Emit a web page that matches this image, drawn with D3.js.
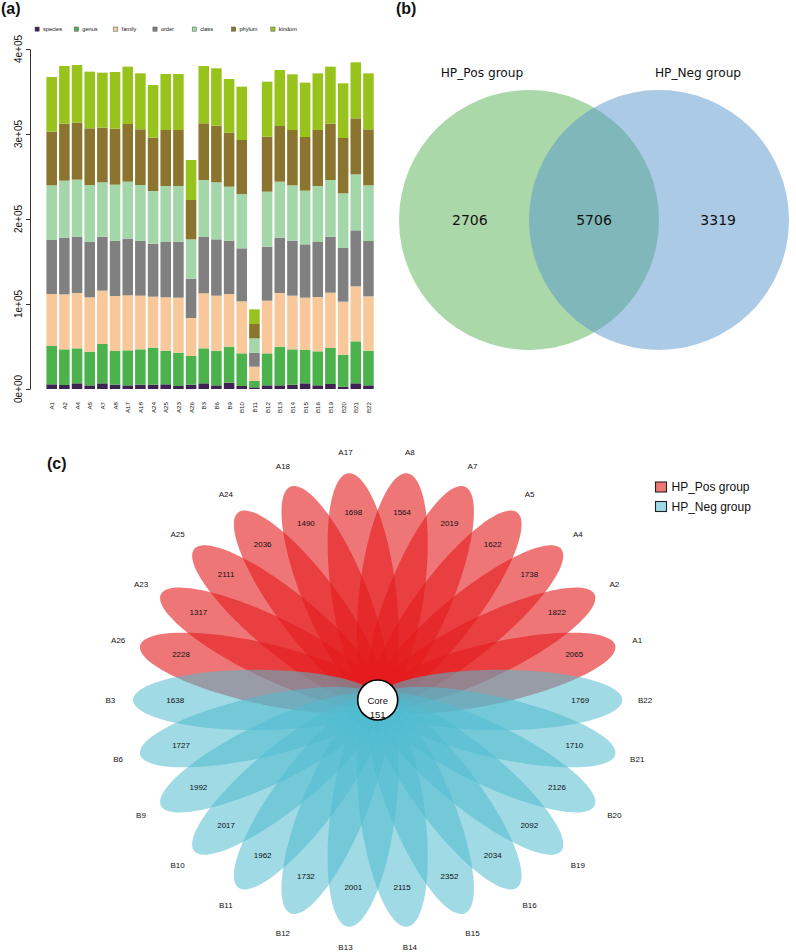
<!DOCTYPE html>
<html><head><meta charset="utf-8">
<script src="https://cdn.jsdelivr.net/npm/d3@7"></script>
<style>
body{margin:0;background:#fff}
svg{display:block}
text{font-family:"Liberation Sans",Arial,Helvetica,sans-serif;fill:#111}
</style>
</head><body>
<svg id="chart" width="796" height="952"></svg>
<script>
// ---------- Panel (a) data ----------
const samples = ["A1","A2","A4","A5","A7","A8","A17","A18","A24","A25","A23","A26",
  "B3","B6","B9","B10","B11","B12","B13","B14","B15","B16","B19","B20","B21","B22"];
const levels = ["species","genus","family","order","class","phylum","kindom"];
const levelColors = ["#3d2352","#4cb24c","#f8c89b","#808080","#a3d7a9","#8b742e","#98c31d"];
const species = [5490,4710,6670,4310,6670,5100,4310,5100,5100,5490,3530,5100,6670,4310,7450,3530,1960,4310,4310,5100,6670,4310,5880,2750,6670,4310];
const genus   = [45100,41960,41180,39610,46270,40000,41180,41570,43530,39610,39220,33730,41180,40780,42350,38430,7450,37650,45490,41570,39220,40000,42350,37650,49410,40780];
const family  = [61180,64710,65100,63920,62750,64310,64710,63140,60000,62750,64710,44710,64710,64710,61960,61180,16860,61960,63140,63140,61570,63920,65100,62350,64710,63920];
const order   = [63530,66670,66280,65490,63530,65100,66670,64710,62350,65100,65880,46270,66280,66280,62750,62350,16470,63530,65100,64710,62750,64710,65880,63140,65880,65100];
const classLv = [64310,67060,67060,66670,63920,65880,67060,65490,61960,65880,65490,46270,67060,67060,63530,63920,16860,64710,65880,65100,63140,65880,66670,64310,65880,65490];
const phylum  = [63140,67060,67060,66670,64310,65880,67840,65490,62750,65880,65880,46270,66670,66670,63530,63530,16860,64710,65490,65100,63140,65880,66280,65100,65880,65880];
const kindom  = [64310,67840,67840,66670,64710,66670,67450,65880,61960,65880,65880,47060,67450,67450,63140,62750,17250,64710,65880,65490,63920,66670,67060,64310,65880,65880];
const yTicks = [0,100000,200000,300000,400000];
const yTickLabels = ["0e+00","1e+05","2e+05","3e+05","4e+05"];

// ---------- Panel (b) data ----------
const vennSets = ["HP_Pos group","HP_Neg group"];
const vennCounts = [2706, 5706, 3319]; // only Pos, shared, only Neg
const vennColors = ["#58b154","#5595cb"];

// ---------- Panel (c) data ----------
const petalSamples = samples;
const petalValues = [2065,1822,1738,1622,2019,1564,1698,1490,2036,2111,1317,2228,
  1638,1727,1992,2017,1962,1732,2001,2115,2352,2034,2092,2126,1710,1769];
const coreValue = 151;
const flowerGroups = ["HP_Pos group","HP_Neg group"];
const flowerColors = ["rgb(228,26,28)","rgb(80,188,208)"];

const svg = d3.select("#chart");

// ================= Panel (a) =================
const rows = samples.map((s,i)=>({sample:s, species:species[i], genus:genus[i], family:family[i],
  order:order[i], class:classLv[i], phylum:phylum[i], kindom:kindom[i]}));
const stack = d3.stack().keys(levels)(rows);

const step = 12.67, firstCenter = 51.7;
const x = d3.scaleBand().domain(samples)
  .range([firstCenter - step/2, firstCenter - step/2 + step*samples.length])
  .paddingInner(0.2/1.2).paddingOuter(0.1/1.2);
const y = d3.scaleLinear().domain([0,400000]).range([389,49]);
const color = d3.scaleOrdinal().domain(levels).range(levelColors);

const gA = svg.append("g");
gA.selectAll("g.layer").data(stack).join("g").attr("class","layer")
  .attr("fill", d=>color(d.key))
  .selectAll("rect").data(d=>d).join("rect")
  .attr("x", d=>x(d.data.sample)).attr("width", x.bandwidth())
  .attr("y", d=>y(d[1])).attr("height", d=>y(d[0])-y(d[1]));

const yAxis = gA.append("g").attr("transform","translate(30,0)")
  .call(d3.axisLeft(y).tickValues(yTicks).tickSize(4).tickSizeOuter(0).tickFormat(""));
yAxis.select(".domain").attr("stroke","#333");
yAxis.selectAll(".tick line").attr("stroke","#333");
gA.selectAll("text.ytl").data(yTicks).join("text").attr("class","ytl")
  .attr("transform", (d)=>`translate(18,${y(d)}) rotate(-90)`)
  .attr("text-anchor","middle").attr("dominant-baseline","central")
  .attr("font-size",10).attr("fill","#333")
  .text((d,i)=>yTickLabels[i]);

gA.selectAll("text.xl").data(samples).join("text").attr("class","xl")
  .attr("transform", d=>`translate(${x(d)+x.bandwidth()/2},402) rotate(-90)`)
  .attr("text-anchor","end").attr("dominant-baseline","central")
  .attr("font-size",6.2).attr("fill","#222").text(d=>d);

// legend (a)
const legA = gA.append("g");
levels.forEach((lv,i)=>{
  const lx = 37 + i*39.3, ly = 29;
  legA.append("rect").attr("x",lx-2).attr("y",ly-2).attr("width",4.2).attr("height",4.2)
    .attr("fill",levelColors[i]).attr("stroke","#555").attr("stroke-width",0.5);
  legA.append("text").attr("x",lx+6).attr("y",ly).attr("dominant-baseline","central")
    .attr("font-size",5.6).attr("fill","#333").text(lv);
});

svg.append("text").attr("x",1).attr("y",14).attr("font-size",16).attr("font-weight","bold").text("(a)");

// ================= Panel (b) =================
const gB = svg.append("g");
const vr = 130, vcx = 594, vcy = 220;
const vx = d3.scaleLinear().domain([-1,1]).range([vcx - vr, vcx + vr]);
const vennCircles = [{set:vennSets[0], c:-0.5},{set:vennSets[1], c:0.5}];
gB.selectAll("circle").data(vennCircles).join("circle")
  .attr("cx", d=>vx(d.c)).attr("cy", vcy).attr("r", vr)
  .attr("fill",(d,i)=>vennColors[i]).attr("fill-opacity",0.5);
const vennTextPos = [-0.955, 0, 0.955];
gB.selectAll("text.vc").data(vennCounts).join("text").attr("class","vc")
  .attr("x",(d,i)=>vx(vennTextPos[i])).attr("y",vcy)
  .attr("text-anchor","middle").attr("dominant-baseline","central")
  .style("font-family","'DejaVu Sans',sans-serif").attr("font-size",14).attr("fill","#000")
  .text(d=>d);
gB.selectAll("text.vt").data(vennCircles).join("text").attr("class","vt")
  .attr("x",(d,i)=>vx(d.c) + (i===0?-47:39)).attr("y",73)
  .attr("text-anchor","middle").attr("dominant-baseline","central")
  .style("font-family","'DejaVu Sans',sans-serif").attr("font-size",12.2).attr("fill","#333")
  .text(d=>d.set);
svg.append("text").attr("x",396).attr("y",14).attr("font-size",16).attr("font-weight","bold").text("(b)");

// ================= Panel (c) =================
const gC = svg.append("g");
const fcx = 377.7, fcy = 700, ux = 81, uy = 75.6;
const fx = d3.scaleLinear().domain([0,10]).range([fcx-5*ux, fcx+5*ux]);
const fy = d3.scaleLinear().domain([0,10]).range([fcy+5*uy, fcy-5*uy]);
const n = petalSamples.length, deg = 360/n;
const semiMajor = 1.52, semiMinor = 0.4, centerDist = 1.5;
const petals = petalSamples.map((s,i)=>({sample:s, value:petalValues[i],
  angle:(i+1)*deg, group: s.startsWith("A")?0:1}));
const line = d3.line();
function ellipsePts(p){
  const t = p.angle*Math.PI/180;
  const ex = 5 + centerDist*Math.cos(t), ey = 5 + centerDist*Math.sin(t);
  const pts = d3.range(0,361,3).map(a=>{
    const z = a*Math.PI/180;
    const xx = semiMajor*Math.cos(z), yy = semiMinor*Math.sin(z);
    return [fx(ex + xx*Math.cos(t) - yy*Math.sin(t)), fy(ey + xx*Math.sin(t) + yy*Math.cos(t))];
  });
  return line(pts)+"Z";
}
gC.selectAll("path.petal").data(petals).join("path").attr("class","petal")
  .attr("d", ellipsePts)
  .attr("fill", d=>flowerColors[d.group]).attr("fill-opacity", d=>d.group===0?0.6:0.55);
gC.selectAll("text.pv").data(petals).join("text").attr("class","pv")
  .attr("x", d=>fx(5+2.5*Math.cos(d.angle*Math.PI/180)))
  .attr("y", d=>fy(5+2.5*Math.sin(d.angle*Math.PI/180)))
  .attr("text-anchor","middle").attr("dominant-baseline","central")
  .attr("font-size",8).attr("fill","#222").text(d=>d.value);
gC.selectAll("text.ps").data(petals).join("text").attr("class","ps")
  .attr("x", d=>fx(5+3.3*Math.cos(d.angle*Math.PI/180)))
  .attr("y", d=>fy(5+3.3*Math.sin(d.angle*Math.PI/180)))
  .attr("text-anchor","middle").attr("dominant-baseline","central")
  .attr("font-size",8).attr("fill","#222").text(d=>d.sample);
gC.append("circle").attr("cx",fx(5)).attr("cy",fy(5)).attr("r",20)
  .attr("fill","#fff").attr("stroke","#000").attr("stroke-width",1.6);
gC.append("text").attr("x",fx(5)).attr("y",fy(5)).attr("text-anchor","middle")
  .attr("dominant-baseline","central").attr("font-size",9.5).attr("fill","#111").text("Core");
gC.append("text").attr("x",fx(5)).attr("y",fy(5)+14.5).attr("text-anchor","middle")
  .attr("dominant-baseline","central").attr("font-size",9.5).attr("fill","#111").text(coreValue);

// legend (c)
flowerGroups.forEach((g,i)=>{
  const ly = 487 + i*19.5;
  gC.append("rect").attr("x",655.5).attr("y",ly-5).attr("width",11).attr("height",10)
    .attr("fill",flowerColors[i]).attr("fill-opacity",i===0?0.6:0.55)
    .attr("stroke","#222").attr("stroke-width",1.1);
  gC.append("text").attr("x",671.5).attr("y",ly).attr("dominant-baseline","central")
    .attr("font-size",12).attr("fill","#222").text(g);
});
svg.append("text").attr("x",47).attr("y",469).attr("font-size",16).attr("font-weight","bold").text("(c)");
</script>
</body></html>
